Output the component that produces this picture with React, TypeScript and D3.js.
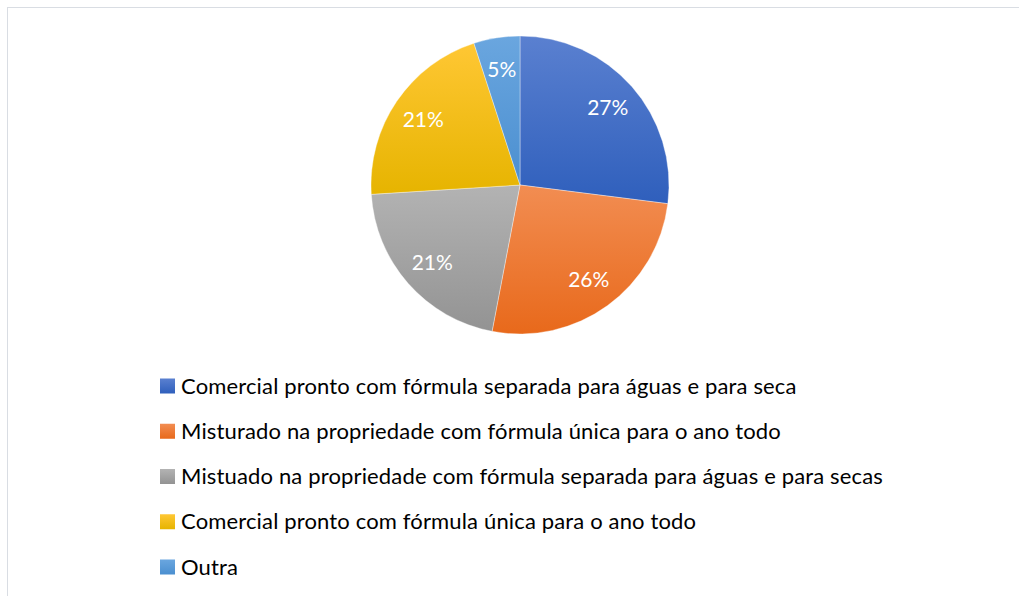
import React from 'react';
import * as d3 from 'd3';

const categories = [
  'Comercial pronto com fórmula separada para águas e para seca',
  'Misturado na propriedade com fórmula única para o ano todo',
  'Mistuado na propriedade com fórmula separada para águas e para secas',
  'Comercial pronto com fórmula única para o ano todo',
  'Outra',
];
const values = [27, 26, 21, 21, 5];
const labels = ['27%', '26%', '21%', '21%', '5%'];
const colorsTop = ['#5a80d0', '#f28d52', '#b3b3b3', '#ffc734', '#6aa6df'];
const colorsBottom = ['#2f5fbc', '#e8691b', '#939393', '#e6b400', '#4b8fd0'];

const W = 1019;
const H = 596;
const cx = 520;
const cy = 185;
const radius = 149;
const labelRadius = 117;

const FONT = 'Lato, "Noto Sans", sans-serif';

const App = () => {
  const pie = d3.pie<number>().sort(null).value(d => d);
  const arcs = pie(values);
  const arc = d3.arc<d3.PieArcDatum<number>>().innerRadius(0).outerRadius(radius);
  const labelArc = d3.arc<d3.PieArcDatum<number>>().innerRadius(labelRadius).outerRadius(labelRadius);

  const legendY = d3.scalePoint<number>()
    .domain(d3.range(categories.length))
    .range([386, 567]);

  return (
    <svg width={W} height={H} style={{ position: 'absolute', left: 0, top: 0 }}>
      <defs>
        {colorsTop.map((c, i) => (
          <linearGradient key={i} id={`g${i}`} x1="0" y1="0" x2="0" y2="1">
            <stop offset="0%" stopColor={c} />
            <stop offset="100%" stopColor={colorsBottom[i]} />
          </linearGradient>
        ))}
      </defs>
      <rect x={0} y={0} width={W} height={H} fill="#fff" />
      <rect x={7.5} y={7.5} width={W + 20} height={H + 20} fill="#fff" stroke="#d9dde3" strokeWidth={1} />
      <g transform={`translate(${cx},${cy})`}>
        {arcs.map((a, i) => (
          <path key={i} d={arc(a) || ''} fill={`url(#g${i})`} stroke="#ffffff" strokeWidth={0.6} strokeOpacity={0.6} />
        ))}
        {arcs.map((a, i) => {
          const [x, y] = labelArc.centroid(a);
          return (
            <text key={i} x={x} y={y} dy="0.35em" textAnchor="middle" fill="#fff"
              fontFamily={FONT} fontSize={21}>
              {labels[i]}
            </text>
          );
        })}
      </g>
      <g>
        {categories.map((c, i) => (
          <g key={i} transform={`translate(0,${legendY(i)})`}>
            <rect x={160} y={-7.5} width={15} height={15} fill={`url(#g${i})`} />
            <text x={181} y={0} dy="0.35em" fill="#000" fontFamily={FONT} fontSize={22}
              letterSpacing={0.15}>
              {c}
            </text>
          </g>
        ))}
      </g>
    </svg>
  );
};

export default App;
